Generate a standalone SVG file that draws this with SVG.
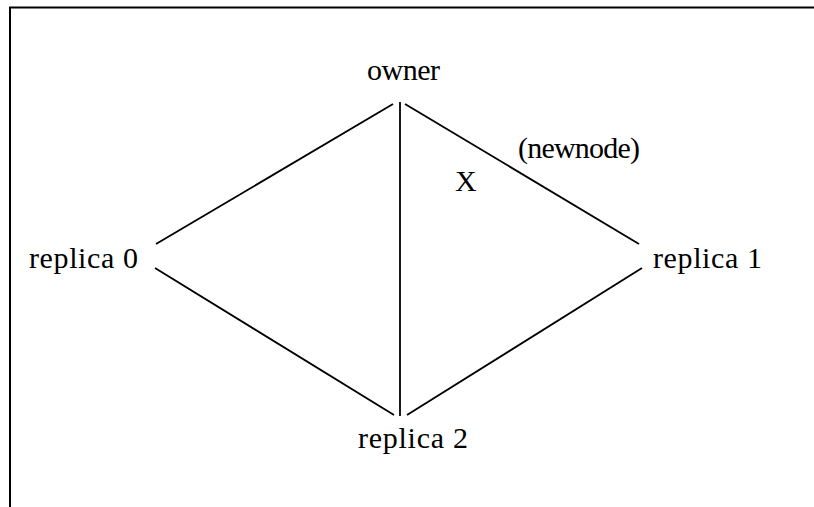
<svg xmlns="http://www.w3.org/2000/svg" width="814" height="507" viewBox="0 0 814 507">
  <style>
    .frame { fill: none; stroke: #000; stroke-width: 2; }
    .edge { stroke: #000; stroke-width: 1.8; fill: none; stroke-linecap: butt; }
    .label { font-family: "Liberation Serif", "Times New Roman", Times, serif; font-size: 30px; fill: #000; }
  </style>
  <rect class="frame" x="10" y="7.5" width="820" height="520"/>

  <g id="connectors">
    <line class="edge" x1="393" y1="104" x2="156" y2="244"/>
    <line class="edge" x1="400" y1="102" x2="400" y2="416"/>
    <line class="edge" x1="405" y1="104" x2="639" y2="244"/>
    <line class="edge" x1="155" y1="268" x2="394" y2="415"/>
    <line class="edge" x1="407" y1="415" x2="642" y2="268"/>
  </g>

  <g id="owner">
    <text class="label" x="367" y="80" textLength="73">owner</text>
  </g>
  <g id="replica0">
    <text class="label" x="29" y="268" textLength="109">replica 0</text>
  </g>
  <g id="replica1">
    <text class="label" x="653" y="268" textLength="109">replica 1</text>
  </g>
  <g id="replica2">
    <text class="label" x="358" y="448" textLength="110">replica 2</text>
  </g>
  <g id="newnode-label">
    <text class="label" x="518" y="158" textLength="122">(newnode)</text>
  </g>
  <g id="cut-mark">
    <text class="label" x="455" y="191">X</text>
  </g>
</svg>
